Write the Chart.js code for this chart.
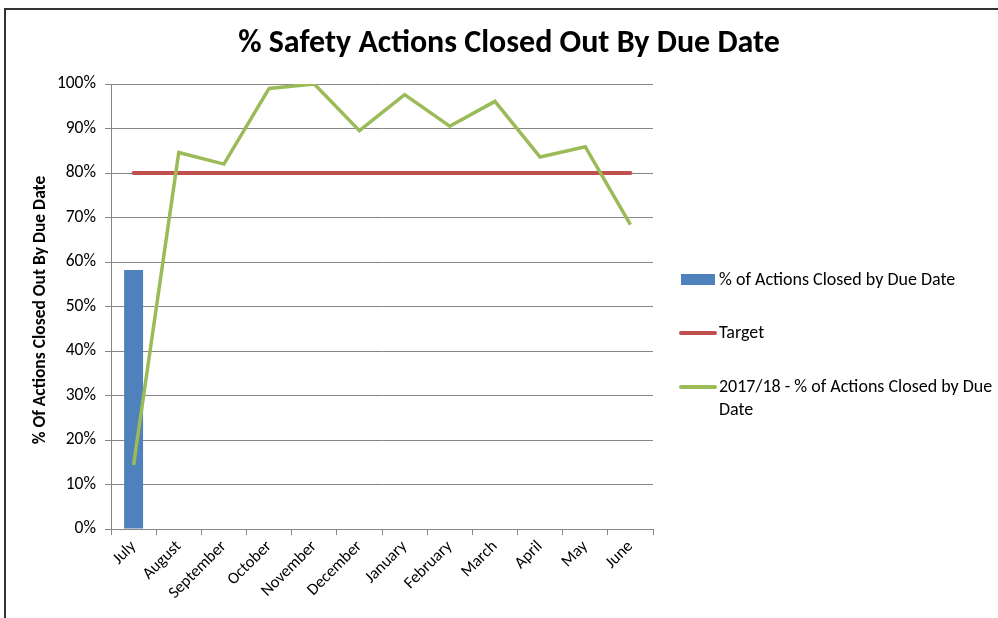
<!DOCTYPE html>
<html>
<head>
<meta charset="utf-8">
<script src="https://cdn.jsdelivr.net/npm/chart.js@4"></script>
<style>
  html, body { margin: 0; padding: 0; background: #fff; }
  #wrap { width: 998px; height: 618px; position: relative; }
</style>
</head>
<body>
<div id="wrap"><canvas id="myChart" width="998" height="618"></canvas></div>
<script>
// months on the x axis
const months = ["July", "August", "September", "October", "November", "December",
  "January", "February", "March", "April", "May", "June"];

// bar series (only July has a value)
const closedByDueDate = [58.2, null, null, null, null, null, null, null, null, null, null, null];

// target line
const target = [80, 80, 80, 80, 80, 80, 80, 80, 80, 80, 80, 80];

// 2017/18 line
const closed2017 = [14.4, 84.6, 82, 99, 100, 89.5, 97.6, 90.5, 96.1, 83.6, 85.9, 68.4];

const titleText = "% Safety Actions Closed Out By Due Date";
const yTitleText = "% Of Actions Closed Out By Due Date";
const fontFamily = "Carlito, Calibri, 'Open Sans', 'Liberation Sans', sans-serif";

// draws frame, title, rotated axis title and the legend on the right
const decorPlugin = {
  id: "decor",
  afterDraw(chart) {
    const ctx = chart.ctx;
    ctx.save();

    // frame (top and left edges only)
    ctx.strokeStyle = "#333";
    ctx.lineWidth = 2;
    ctx.beginPath();
    ctx.moveTo(998, 9);
    ctx.lineTo(5, 9);
    ctx.lineTo(5, 618);
    ctx.stroke();

    // title
    ctx.fillStyle = "#000";
    ctx.font = "bold 32px " + fontFamily;
    ctx.textAlign = "center";
    ctx.textBaseline = "middle";
    ctx.fillText(titleText, 509, 44);

    // y axis title
    ctx.save();
    ctx.translate(41, 310);
    ctx.rotate(-Math.PI / 2);
    ctx.font = "bold 17.5px " + fontFamily;
    ctx.fillText(yTitleText, 0, 0);
    ctx.restore();

    // legend
    ctx.font = "18px " + fontFamily;
    ctx.textAlign = "left";
    ctx.textBaseline = "middle";
    const ds = chart.data.datasets;

    ctx.fillStyle = ds[0].backgroundColor;
    ctx.fillRect(681, 274, 34, 11);
    ctx.fillStyle = "#000";
    ctx.fillText(ds[0].label, 719, 280);

    ctx.lineCap = "round";
    ctx.lineWidth = 4;
    ctx.strokeStyle = ds[1].borderColor;
    ctx.beginPath();
    ctx.moveTo(681, 333);
    ctx.lineTo(715, 333);
    ctx.stroke();
    ctx.fillText(ds[1].label, 719, 333);

    ctx.strokeStyle = ds[2].borderColor;
    ctx.beginPath();
    ctx.moveTo(681, 387);
    ctx.lineTo(715, 387);
    ctx.stroke();
    ctx.fillText("2017/18 - % of Actions Closed by Due", 719, 387);
    ctx.fillText("Date", 719, 410);

    ctx.restore();
  }
};

const ctx1 = document.getElementById("myChart").getContext("2d");
new Chart(ctx1, {
  data: {
    labels: months,
    datasets: [
      {
        type: "bar",
        label: "% of Actions Closed by Due Date",
        data: closedByDueDate,
        backgroundColor: "#4F81BD",
        borderWidth: 0,
        categoryPercentage: 1,
        barPercentage: 0.42,
        order: 3,
      },
      {
        type: "line",
        label: "Target",
        data: target,
        borderColor: "#C0504D",
        backgroundColor: "#C0504D",
        borderWidth: 4,
        borderCapStyle: "round",
        pointRadius: 0,
        tension: 0,
        order: 2,
      },
      {
        type: "line",
        label: "2017/18 - % of Actions Closed by Due Date",
        data: closed2017,
        borderColor: "#9BBB59",
        backgroundColor: "#9BBB59",
        borderWidth: 3.5,
        pointRadius: 0,
        tension: 0,
        order: 1,
      },
    ],
  },
  options: {
    responsive: false,
    animation: false,
    layout: {
      padding: { left: 0, right: 345, top: 84, bottom: 0 },
    },
    plugins: {
      legend: { display: false },
      title: { display: false },
      tooltip: { enabled: false },
    },
    scales: {
      x: {
        offset: true,
        grid: {
          offset: true,
          drawOnChartArea: false,
          drawTicks: true,
          tickLength: 6,
          color: "#868686",
        },
        border: { color: "#868686", width: 1 },
        ticks: {
          color: "#000",
          font: { family: fontFamily, size: 16.5 },
          maxRotation: 45,
          minRotation: 45,
          padding: 2,
          autoSkip: false,
        },
        afterFit: (scale) => { scale.height = 89; },
      },
      y: {
        min: 0,
        max: 100,
        grid: {
          color: "#868686",
          lineWidth: 1,
          tickLength: 6,
        },
        border: { color: "#868686", width: 1 },
        ticks: {
          stepSize: 10,
          color: "#000",
          font: { family: fontFamily, size: 17.5 },
          padding: 9,
          callback: (v) => v + "%",
        },
        afterFit: (scale) => { scale.width = 111; },
      },
    },
  },
  plugins: [decorPlugin],
});
</script>
</body>
</html>
